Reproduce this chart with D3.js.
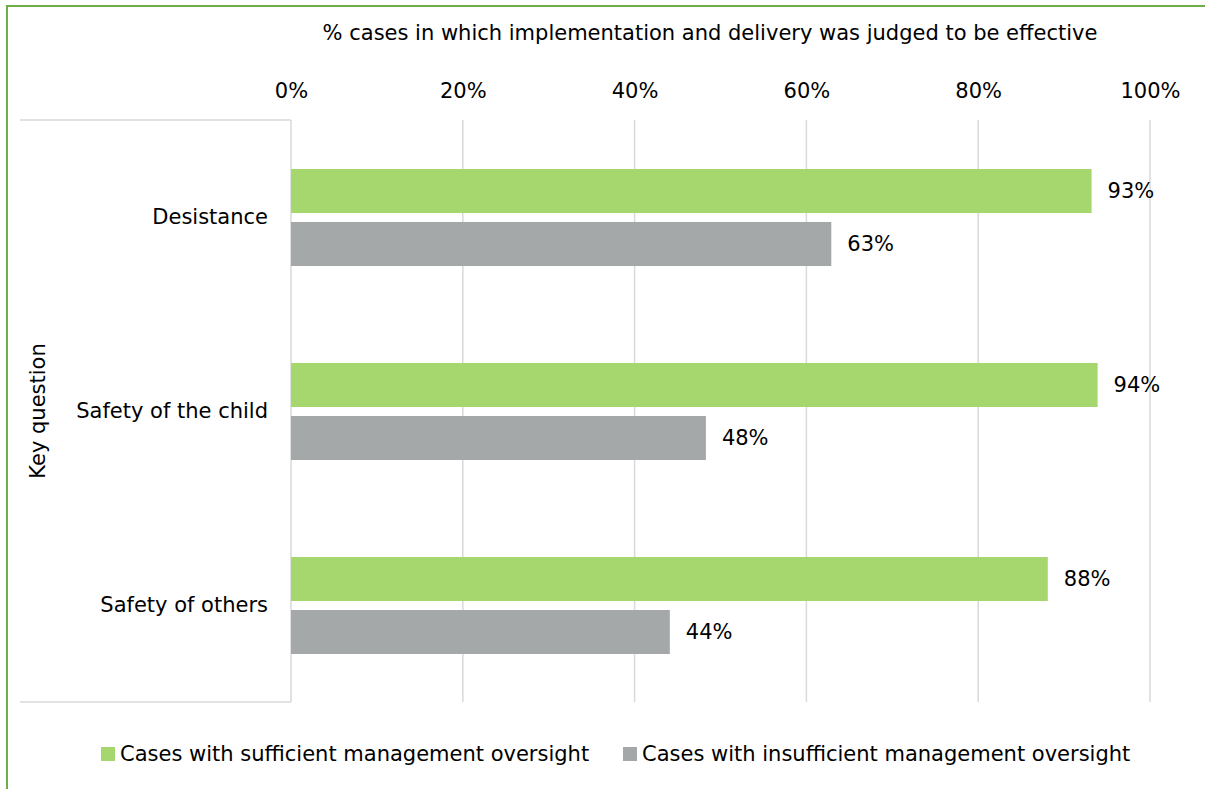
<!DOCTYPE html>
<html><head><meta charset="utf-8">
<script src="https://cdn.jsdelivr.net/npm/d3@7"></script>
<style>body{margin:0;background:#fff}svg{display:block}text{font-family:"DejaVu Sans",Verdana,sans-serif;fill:#000}</style>
</head><body><svg id="c" width="1205" height="789"></svg>
<script>
const categories = ["Desistance", "Safety of the child", "Safety of others"];
const seriesNames = ["Cases with sufficient management oversight", "Cases with insufficient management oversight"];
const sufficient = [93.2, 93.9, 88.1];
const insufficient = [62.9, 48.3, 44.1];
const sufficientLabels = ["93%", "94%", "88%"];
const insufficientLabels = ["63%", "48%", "44%"];
const ticks = [0, 20, 40, 60, 80, 100];
const colors = ["#a5d76e", "#a5a8a9"];
const xTitle = "% cases in which implementation and delivery was judged to be effective";
const yTitle = "Key question";

const svg = d3.select("#c");
const W = 1205, H = 789;
const fs = 21;
// border
svg.append("rect").attr("x", 7).attr("y", 6).attr("width", W + 10).attr("height", H + 10)
  .attr("fill", "none").attr("stroke", "#70ad47").attr("stroke-width", 2);

const x = d3.scaleLinear().domain([0, 100]).range([291, 1150]);
const y0 = d3.scaleBand().domain(categories).range([120, 702]).paddingInner(0).paddingOuter(0);
const y1 = d3.scaleBand().domain([0, 1]).range([49, 49 + 97]).paddingInner(0.17).paddingOuter(0);

// gridlines
svg.append("g").selectAll("line").data(ticks).join("line")
  .attr("x1", d => x(d)).attr("x2", d => x(d)).attr("y1", 120).attr("y2", 702)
  .attr("stroke", "#d9d9d9").attr("stroke-width", 1.5);
// category axis frame
svg.append("g").selectAll("line").data([120, 702]).join("line")
  .attr("x1", 20).attr("x2", 291).attr("y1", d => d).attr("y2", d => d)
  .attr("stroke", "#d9d9d9").attr("stroke-width", 1.5);

// top axis labels
const xAxis = d3.axisTop(x).tickValues(ticks).tickSize(0).tickPadding(0).tickFormat(d => d + "%");
const gx = svg.append("g").attr("transform", "translate(0,98)").call(xAxis);
gx.select(".domain").remove();
gx.selectAll("text").attr("font-size", fs).attr("font-family", "DejaVu Sans").attr("fill", "#000");

svg.append("text").attr("x", 710).attr("y", 40).attr("text-anchor", "middle").attr("font-size", fs).text(xTitle);

// category labels
categories.forEach(c => {
  svg.append("text").attr("x", 268).attr("y", y0(c) + y0.bandwidth() / 2).attr("dy", "0.35em")
    .attr("text-anchor", "end").attr("font-size", fs).text(c);
});
svg.append("text").attr("transform", "translate(45,411) rotate(-90)").attr("text-anchor", "middle")
  .attr("font-size", fs).text(yTitle);

const rows = categories.map((c, i) => ({c, vals: [sufficient[i], insufficient[i]], labs: [sufficientLabels[i], insufficientLabels[i]]}));
const g = svg.append("g").selectAll("g").data(rows).join("g")
  .attr("transform", d => `translate(0,${y0(d.c)})`);
g.selectAll("rect").data(d => d.vals.map((v, k) => ({v, k}))).join("rect")
  .attr("x", x(0)).attr("y", d => y1(d.k)).attr("width", d => x(d.v) - x(0)).attr("height", y1.bandwidth())
  .attr("fill", d => colors[d.k]);
g.selectAll("text").data(d => d.vals.map((v, k) => ({v, k, l: d.labs[k]}))).join("text")
  .attr("x", d => x(d.v) + 16).attr("y", d => y1(d.k) + y1.bandwidth() / 2).attr("dy", "0.35em")
  .attr("font-size", fs).text(d => d.l);

// legend
const legX = [101, 623];
seriesNames.forEach((s, i) => {
  svg.append("rect").attr("x", legX[i]).attr("y", 747).attr("width", 14).attr("height", 14).attr("fill", colors[i]);
  svg.append("text").attr("x", legX[i] + 19).attr("y", 754).attr("dy", "0.35em").attr("font-size", fs).text(s);
});
</script></body></html>
